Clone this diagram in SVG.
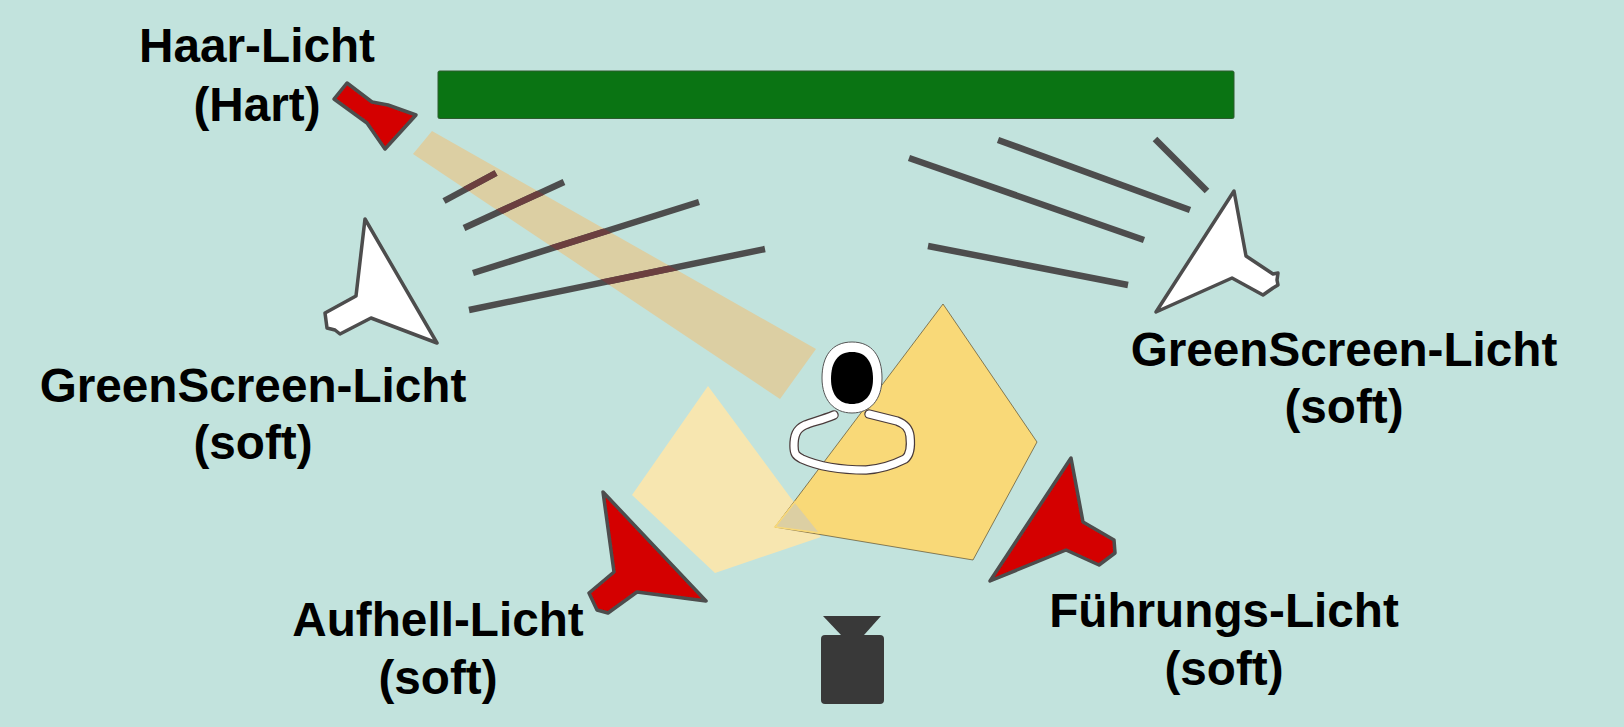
<svg xmlns="http://www.w3.org/2000/svg" width="1624" height="727" viewBox="0 0 1624 727">
<style>
.t{font-family:"Liberation Sans",Arial,sans-serif;font-weight:700;font-size:47.700px;fill:#000;text-anchor:middle}
.lamp{stroke:#4d4d4d;stroke-width:3.500;stroke-linejoin:round;filter:url(#soft)}
.red{fill:#d40000}.white{fill:#fff}
.ln{stroke:#4d4d4d;stroke-width:6.500;fill:none}
.ov{stroke:#6b3f3f;stroke-width:6.500;fill:none}
.edge{stroke:#3a2a10;stroke-width:.8;stroke-opacity:.7}
</style>
<defs><clipPath id="bc"><polygon points="432,131 816,349 780,399 413,154"/></clipPath>
<filter id="soft" x="-10%" y="-10%" width="120%" height="120%"><feGaussianBlur stdDeviation="0.6"/></filter></defs>
<rect width="1624" height="727" fill="#c2e3dd"/>
<g id="greenscreen"><rect x="438" y="71" width="796" height="47.500" rx="1.500" fill="#0a7413" stroke="#2d5a2d" stroke-width="1"/></g>
<g id="beams">
<polygon points="708,386 790,497 821,537 715,573 632,495" fill="#f7e6b0"/>
<polygon class="edge" points="943,304 1037,442 973,560 775,527" fill="#f9d978"/>
<polygon points="795,502 820,533 775,527" fill="#dccfa3" stroke="#f9d978" stroke-width="1.500"/>
<polygon points="432,131 816,349 780,399 413,154" fill="#dccfa3"/>
</g>
<g id="connectors">
<g class="ln">
<line x1="444" y1="201" x2="496" y2="173"/>
<line x1="464" y1="228" x2="564" y2="182"/>
<line x1="473" y1="273" x2="699" y2="202"/>
<line x1="469" y1="310" x2="765" y2="249"/>
<line x1="1155" y1="139" x2="1207" y2="191"/>
<line x1="998" y1="140" x2="1190" y2="210"/>
<line x1="909" y1="158" x2="1144" y2="240"/>
<line x1="928" y1="246" x2="1128" y2="285"/>
</g>
<g class="ov" clip-path="url(#bc)">
<line x1="444" y1="201" x2="496" y2="173"/>
<line x1="464" y1="228" x2="564" y2="182"/>
<line x1="473" y1="273" x2="699" y2="202"/>
<line x1="469" y1="310" x2="765" y2="249"/>
</g>
</g>
<g id="haar-licht"><polygon class="lamp red" points="347,83 372,102 388,105 416,115 385,149 367,123 334,99"/>
<text class="t" x="257" y="62">Haar-Licht</text><text class="t" x="257" y="121">(Hart)</text></g>
<g id="gs-links"><polygon class="lamp white" points="365,219 437,343 371,318 340,334 335,330 327,328 325,313 356,296"/>
<text class="t" x="253" y="402">GreenScreen-Licht</text><text class="t" x="253" y="459">(soft)</text></g>
<g id="gs-rechts"><polygon class="lamp white" points="1234,191 1246,256 1273,274 1278,273 1277,280 1278,285 1273,288 1263,295 1232,278 1156,312"/>
<text class="t" x="1344" y="366">GreenScreen-Licht</text><text class="t" x="1344" y="423">(soft)</text></g>
<g id="aufhell"><polygon class="lamp red" points="603,492 706,601 637,592 608,613 597,610 589,593 614,572"/>
<text class="t" x="438" y="636">Aufhell-Licht</text><text class="t" x="438" y="694">(soft)</text></g>
<g id="fuehrung"><polygon class="lamp red" points="1071,458 1083,522 1114,540 1115,553 1099,565 1066,550 990,581"/>
<text class="t" x="1224" y="627">Führungs-Licht</text><text class="t" x="1224" y="685">(soft)</text></g>
<g id="person">
<path d="M834,415 C822,420 812,422 805,425 C796,429 794,436 794,446 C794,454 796,456 802,459 C822,468 850,470 866,470 C882,469 895,464 905,459 C910,455 911,445 910,436 C909,428 905,424 897,421 L869,414" fill="none" stroke="#4a3a3a" stroke-width="9.500" stroke-linecap="round" stroke-linejoin="round" filter="url(#soft)"/>
<path d="M834,415 C822,420 812,422 805,425 C796,429 794,436 794,446 C794,454 796,456 802,459 C822,468 850,470 866,470 C882,469 895,464 905,459 C910,455 911,445 910,436 C909,428 905,424 897,421 L869,414" fill="none" stroke="#fff" stroke-width="7" stroke-linecap="round" stroke-linejoin="round" filter="url(#soft)"/>
<path d="M852,342 C872,342 882,356 882,378 C882,400 870,413 852,413 C834,413 822,400 822,378 C822,356 832,342 852,342 Z" fill="#fff" stroke="#555" stroke-width="1"/>
<path d="M852,352 C866,352 873,362 873,379 C873,396 864,404 852,404 C840,404 831,396 831,379 C831,362 838,352 852,352 Z" fill="#000" filter="url(#soft)"/>
</g>
<g id="camera"><polygon points="823,616 881,616 864,635 841,635" fill="#393939"/><rect x="821" y="635" width="63" height="69" rx="4" fill="#393939"/></g>
</svg>
